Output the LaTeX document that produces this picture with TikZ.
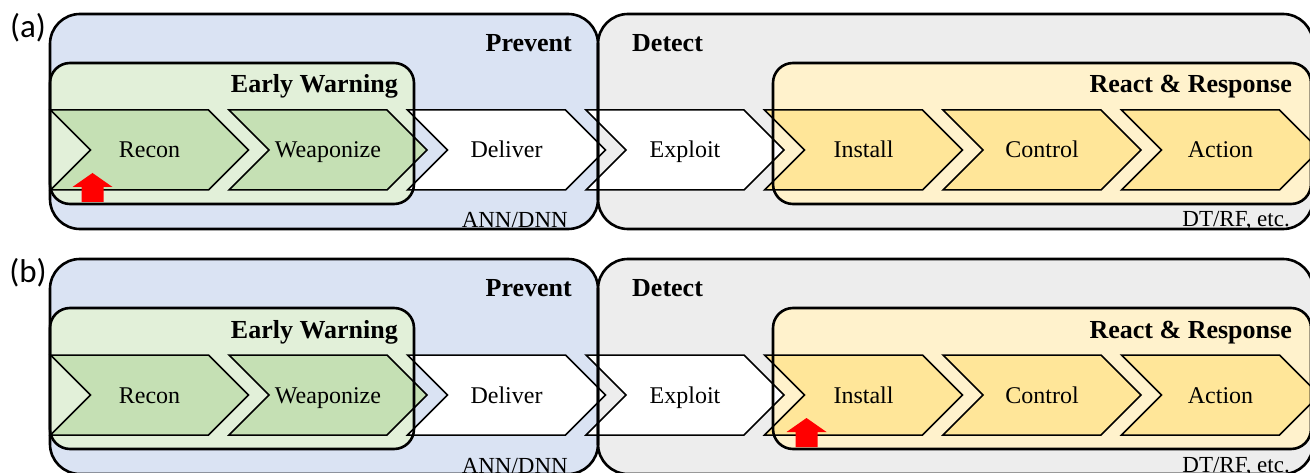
\documentclass[tikz,border=0pt]{standalone}
\usepackage{fontspec}
\setmainfont{Liberation Serif}
\newfontfamily\labfont{Carlito}
\usetikzlibrary{shapes.symbols}
\definecolor{preventfill}{HTML}{DAE3F3}
\definecolor{detectfill}{HTML}{EDEDED}
\definecolor{warnfill}{HTML}{E2F0D9}
\definecolor{reactfill}{HTML}{FFF2CC}
\definecolor{greenchev}{HTML}{C5E0B4}
\definecolor{yellowchev}{HTML}{FFE699}
\definecolor{arrowred}{HTML}{FF0000}
\begin{document}
\begin{tikzpicture}
        [x=1pt, y=-1pt,
         chev/.style ={draw, line width=1.5pt, shape=signal, signal from=west, signal to=east,
                       signal pointer angle=90, minimum width=198pt, minimum height=80pt,
                       inner sep=0pt, text height=21pt, text depth=5pt,
                       font=\fontsize{24}{28}\selectfont},
         boxline/.style ={draw, line width=2.6pt},
         title/.style ={font=\fontsize{26}{30}\selectfont\bfseries, inner sep=0pt},
         note/.style ={font=\fontsize{23}{27}\selectfont, inner sep=0pt},
         lab/.style ={font=\fontsize{33}{36}\labfont, inner sep=0pt},
         redup/.pic ={\fill[arrowred] (0,0) -- (20,14) -- (11,14) -- (11,29) -- (-11,29) -- (-11,14) -- (-20,14) -- cycle;}]
        \useasboundingbox (0,0) rectangle (1310,473);
        \clip (0,0) rectangle (1310,473);
        \foreach \p/\dy/\hit in {a/0/recon, b/245/install}{
        \begin{scope}[yshift=-\dy pt]
        % stage boxes
        \fill[preventfill, rounded corners=30pt] (50,14) rectangle (598,229);
        \fill[detectfill, rounded corners=30pt] (598,14) rectangle (1313,229);
        \fill[warnfill, rounded corners=20pt] (50,63) rectangle (414,204);
        \fill[reactfill, rounded corners=20pt] (773,63) rectangle (1311,204);
        % kill chain
        \node[chev, fill=greenchev] (recon-\p) at (149.5,150) {Recon};
        \node[chev, fill=greenchev] (weapon-\p) at (328,150) {Weaponize};
        \node[chev, fill=white] (deliver-\p) at (506.5,150) {Deliver};
        \node[chev, fill=white] (exploit-\p) at (685,150) {Exploit};
        \node[chev, fill=yellowchev] (install-\p) at (863.5,150) {Install};
        \node[chev, fill=yellowchev] (control-\p) at (1042,150) {Control};
        \node[chev, fill=yellowchev] (action-\p) at (1220.5,150) {Action};
        \draw[boxline, rounded corners=30pt] (50,14) rectangle (598,229);
        \draw[boxline, rounded corners=30pt] (598,14) rectangle (1313,229);
        \draw[boxline, rounded corners=20pt] (50,63) rectangle (414,204);
        \draw[boxline, rounded corners=20pt] (773,63) rectangle (1311,204);
        % titles
        \node[lab] (lab-\p) at (28,28) {(\p)};
        \node[title, anchor=base east] (prevent-\p) at (572,52) {Prevent};
        \node[title, anchor=base west] (detect-\p) at (632,52) {Detect};
        \node[title, anchor=base east] (warn-\p) at (398,93) {Early Warning};
        \node[title, anchor=base east] (react-\p) at (1292,93) {React \& Response};
        \node[note, anchor=base east] (ann-\p) at (568,228) {ANN/DNN};
        \node[note, anchor=base east] (dtrf-\p) at (1290,227) {DT/RF, etc.};
        \path (\hit-\p.center) ++(-57,23) pic {redup};
        \end{scope}
        }
    \end{tikzpicture}
\end{document}
